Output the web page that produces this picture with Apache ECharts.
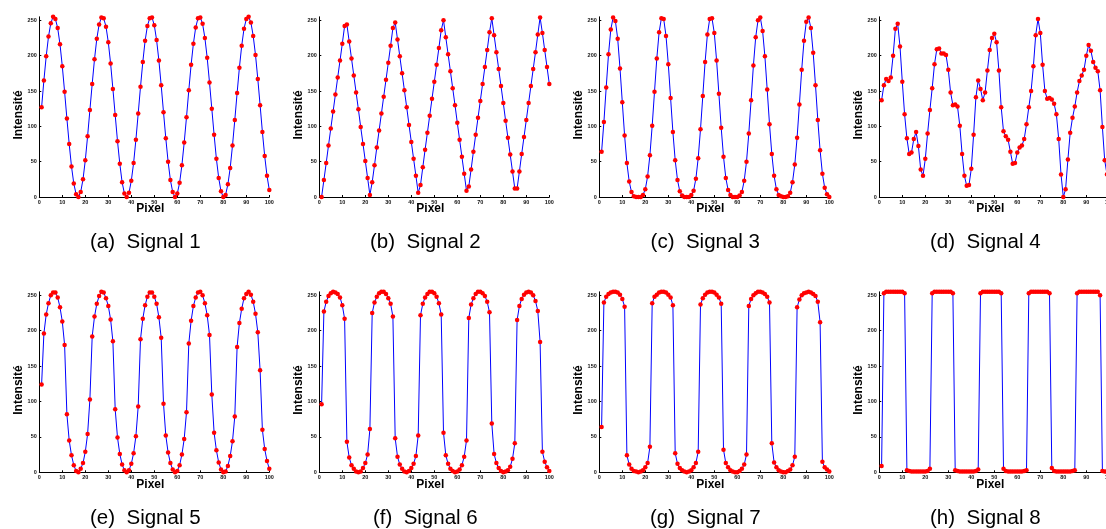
<!DOCTYPE html>
<html>
<head>
<meta charset="utf-8">
<script src="https://cdn.jsdelivr.net/npm/echarts@6/dist/echarts.min.js"></script>
<style>
html,body{margin:0;padding:0;background:#fff;}
#chart{width:1106px;height:529px;}
</style>
</head>
<body>
<div id="chart"></div>
<script>
// ---- data ----
const pixels = Array.from({length: 100}, (_, i) => i + 1);
const xTickValues = [0, 10, 20, 30, 40, 50, 60, 70, 80, 90, 100];
const yTickValues = [0, 50, 100, 150, 200, 250];
const captions = ['(a)  Signal 1', '(b)  Signal 2', '(c)  Signal 3', '(d)  Signal 4',
                  '(e)  Signal 5', '(f)  Signal 6', '(g)  Signal 7', '(h)  Signal 8'];

const signal1 = [127,165,199,227,246,255,252,239,216,185, 149,111,75,43,19,4,0,7,25,52,
  86,123,160,195,224,244,254,253,241,219, 189,153,116,79,47,21,5,0,6,23,
  48,81,118,156,191,221,242,253,254,243, 222,193,158,120,83,50,24,7,0,5,
  20,45,77,113,151,187,217,240,253,254, 245,225,197,162,125,88,54,27,8,0,
  3,18,41,73,109,147,183,214,238,252, 255,247,228,201,167,130,92,58,30,10];

const signal2 = [0,24,48,73,97,121,145,169,193,217, 242,244,220,196,172,148,124,99,75,51,
  27,3,21,45,70,94,118,142,166,190, 214,239,247,223,199,175,151,127,102,78,
  54,30,6,17,42,67,91,115,139,163, 187,211,236,250,226,202,178,154,130,105,
  81,57,33,9,15,39,64,88,112,136, 160,184,208,233,253,229,205,181,157,133,
  108,84,60,36,12,12,36,61,85,109, 133,157,181,205,230,254,232,208,184,160];

const signal3 = [64,106,155,202,237,254,249,224,182,134, 87,48,22,7,1,0,0,0,3,11,
  29,59,101,149,196,233,253,252,228,188, 140,92,52,24,8,2,0,0,0,3,
  9,26,55,96,143,191,230,252,253,232, 193,146,98,57,27,10,3,0,0,0,
  2,7,23,50,90,137,186,226,250,254, 235,199,152,103,61,30,11,3,1,0,
  0,1,6,21,46,84,131,180,221,248, 254,239,204,158,109,66,33,13,4,0];

const signal4 = [137,158,167,164,169,200,238,245,213,163, 117,83,61,63,82,92,72,39,30,54,
  90,123,154,188,209,210,203,203,201,180, 148,130,131,128,101,61,30,16,17,40,
  88,141,165,153,137,148,179,208,225,231, 219,179,127,93,86,81,64,47,48,63,
  70,73,82,103,127,150,185,229,252,232, 187,150,139,140,138,132,117,82,32,0,
  11,53,91,112,128,148,164,172,180,200, 215,207,191,183,178,151,99,52,32,15];

const signal5 = [124,196,223,239,250,254,254,247,233,213, 180,82,45,24,10,2,0,5,13,29,
  54,103,192,220,238,249,255,254,246,235, 216,185,89,49,26,11,3,0,3,12,
  27,51,93,188,217,236,248,254,254,248, 238,219,190,97,52,28,13,4,0,2,
  10,25,47,85,182,214,235,247,254,255, 250,239,222,194,110,56,31,14,4,0,
  1,9,23,44,79,177,211,231,246,252, 255,251,241,224,198,144,60,33,16,5];

const signal6 = [96,227,241,249,253,255,254,252,247,236, 217,43,21,10,5,1,0,1,6,13,
  25,61,225,240,248,253,255,255,252,246, 238,220,48,22,11,5,1,0,2,6,
  12,23,52,222,238,247,252,255,255,253, 248,239,223,56,24,12,5,2,0,1,
  4,10,22,45,218,237,246,252,255,255, 253,249,241,226,69,26,13,6,2,0,
  1,3,8,19,41,215,235,245,251,254, 255,254,250,242,228,184,29,15,7,2];

const signal7 = [64,240,248,252,254,255,255,254,251,245, 234,24,11,5,2,1,0,1,3,7,
  13,36,239,248,251,254,255,255,254,251, 247,236,27,12,6,3,1,0,1,3,
  7,13,29,237,246,251,254,255,255,254, 251,247,238,32,13,7,3,1,0,0,
  2,5,11,25,235,245,250,253,255,255, 254,252,248,240,41,14,7,3,1,0,
  0,2,4,10,22,233,244,250,253,254, 255,254,252,249,241,212,15,7,4,1];

const signal8 = [9,253,255,255,255,255,255,255,255,255, 253,3,2,1,1,1,1,1,1,1,
  2,5,253,255,255,255,255,255,255,255, 255,253,3,2,1,1,1,1,1,1,
  1,2,4,253,255,255,255,255,255,255, 255,255,253,5,2,1,1,1,1,1,
  1,1,2,3,253,255,255,255,255,255, 255,255,255,253,6,2,1,1,1,1,
  1,1,1,2,3,253,255,255,255,255, 255,255,255,255,255,250,2,1,1,1];

const signals = [signal1, signal2, signal3, signal4, signal5, signal6, signal7, signal8];

// ---- layout ----
const colLeft = [39.3, 319.3, 599.3, 879.3];
const rowTop = [16.8, 291.8];
const rowH = [180.2, 180.5];
const gridW = 230;

const grids = [], xAxes = [], yAxes = [], series = [], graphics = [];
const tickFont = {fontFamily: 'Liberation Sans', fontWeight: 'bold', fontSize: 5.5, color: '#111'};

signals.forEach((sig, k) => {
  const r = Math.floor(k / 4), c = k % 4;
  grids.push({left: colLeft[c], top: rowTop[r], width: gridW, height: rowH[r],
              containLabel: false, outerBoundsMode: 'none'});
  xAxes.push({
    type: 'value', gridIndex: k, min: 0, max: 100, interval: 10,
    axisLine: {show: true, onZero: false, lineStyle: {color: '#000', width: 1}},
    axisTick: {show: true, inside: true, length: 2, lineStyle: {color: '#000'}},
    axisLabel: Object.assign({margin: 2.5, hideOverlap: false}, tickFont),
    splitLine: {show: false}
  });
  yAxes.push({
    type: 'value', gridIndex: k, min: 0, max: 255,
    axisLine: {show: true, onZero: false, lineStyle: {color: '#000', width: 1}},
    axisTick: {show: true, inside: true, length: 2, customValues: yTickValues, lineStyle: {color: '#000'}},
    axisLabel: Object.assign({margin: 2.5, customValues: yTickValues}, tickFont),
    splitLine: {show: false}
  });
  series.push({
    type: 'line', xAxisIndex: k, yAxisIndex: k,
    data: pixels.map((p, i) => [p, sig[i]]),
    lineStyle: {color: '#0000ff', width: 1},
    itemStyle: {color: '#ff0000'},
    symbol: 'circle', symbolSize: 4.5, showSymbol: true,
    animation: false, silent: true
  });
  const axisBottom = rowTop[r] + rowH[r];
  // y-axis title
  graphics.push({
    type: 'text', x: colLeft[c] - 20.8, y: rowTop[r] + rowH[r] / 2 + 8, rotation: Math.PI / 2,
    style: {text: 'Intensité', font: 'bold 12px "Liberation Sans"', fill: '#000', align: 'center', verticalAlign: 'middle'}
  });
  // x-axis title
  graphics.push({
    type: 'text', x: colLeft[c] + gridW / 2 - 4, y: axisBottom + 12,
    style: {text: 'Pixel', font: 'bold 12px "Liberation Sans"', fill: '#000', align: 'center', verticalAlign: 'middle'}
  });
  // caption
  graphics.push({
    type: 'text', x: colLeft[c] + 106, y: r === 0 ? 242 : 518,
    style: {text: captions[k], font: '20.5px "Liberation Sans"', fill: '#000', align: 'center', verticalAlign: 'middle'}
  });
});

const chart = echarts.init(document.getElementById('chart'), null, {renderer: 'canvas'});
chart.setOption({
  animation: false,
  backgroundColor: '#fff',
  grid: grids, xAxis: xAxes, yAxis: yAxes, series: series,
  graphic: graphics
});
</script>
</body>
</html>
